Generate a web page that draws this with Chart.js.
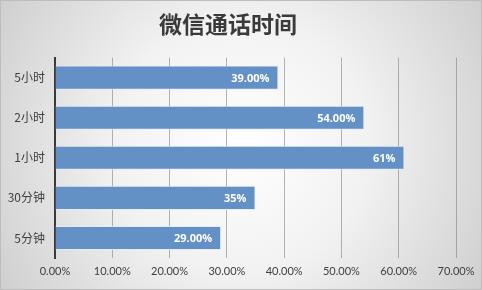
<!DOCTYPE html>
<html>
<head>
<meta charset="utf-8">
<script src="https://cdn.jsdelivr.net/npm/chart.js@4/dist/chart.umd.min.js"></script>
<style>
html,body{margin:0;padding:0;background:#fff;}
#wrap{width:482px;height:290px;position:relative;}
canvas{display:block;}
</style>
</head>
<body>
<div id="wrap"><canvas id="c" width="482" height="290"></canvas></div>
<script>
const titleText = "微信通话时间";
const categories = ["5小时", "2小时", "1小时", "30分钟", "5分钟"];
const values = [39, 54, 61, 35, 29];
const valueLabels = ["39.00%", "54.00%", "61%", "35%", "29.00%"];
const xTicks = [0, 10, 20, 30, 40, 50, 60, 70];

const bgPlugin = {
  id: 'bg',
  beforeDraw(chart) {
    const ctx = chart.ctx, w = chart.width, h = chart.height;
    ctx.save();
    const g = ctx.createRadialGradient(w/2, h/2, 0, w/2, h/2, Math.sqrt(w*w+h*h)/2);
    g.addColorStop(0, '#ffffff');
    g.addColorStop(0.45, '#f2f2f2');
    g.addColorStop(1, '#cfcfcf');
    ctx.fillStyle = g;
    ctx.fillRect(0, 0, w, h);
    ctx.strokeStyle = '#bdbdbd';
    ctx.lineWidth = 1;
    ctx.strokeRect(0.5, 0.5, w-1, h-1);
    ctx.restore();
  }
};

const labelPlugin = {
  id: 'vlabels',
  afterDatasetsDraw(chart) {
    const ctx = chart.ctx;
    const meta = chart.getDatasetMeta(0);
    ctx.save();
    ctx.font = 'bold 11px "Open Sans", "Noto Sans CJK SC", sans-serif';
    ctx.fillStyle = '#ffffff';
    ctx.textAlign = 'right';
    ctx.textBaseline = 'middle';
    meta.data.forEach((bar, i) => {
      ctx.fillText(valueLabels[i], bar.x - 9, bar.y + 1);
    });
    ctx.restore();
  }
};

new Chart(document.getElementById('c'), {
  type: 'bar',
  data: {
    labels: categories,
    datasets: [{
      data: values,
      backgroundColor: 'rgb(99,144,197)',
      borderColor: 'rgba(225,235,248,0.9)',
      borderWidth: 1,
      borderSkipped: 'start',
      categoryPercentage: 1.0,
      barPercentage: 0.6
    }]
  },
  options: {
    indexAxis: 'y',
    responsive: false,
    animation: false,
    devicePixelRatio: 1,
    layout: { padding: { left: 0, right: 26, top: 0, bottom: 0 } },
    plugins: {
      legend: { display: false },
      tooltip: { enabled: false },
      title: {
        display: true,
        text: titleText,
        color: '#3a3a3a',
        font: { family: '"Noto Sans CJK SC", sans-serif', size: 23, weight: 'bold', lineHeight: 1.2 },
        padding: { top: 10, bottom: 20 }
      }
    },
    scales: {
      x: {
        min: 0, max: 70,
        afterBuildTicks(scale) { scale.ticks = xTicks.map(v => ({ value: v })); },
        afterFit(scale) { scale.height = 32; },
        grid: { color: 'rgba(120,120,120,0.55)', lineWidth: 1, drawTicks: false, tickLength: 0 },
        border: { display: false },
        ticks: {
          padding: 7,
          color: '#404040',
          font: { family: 'Lato, "Open Sans", sans-serif', size: 11 },
          callback: (v) => v.toFixed(2) + '%'
        }
      },
      y: {
        afterFit(scale) { scale.width = 55; },
        grid: { display: false, drawTicks: false },
        border: { display: true, color: '#3a3a3a', width: 2 },
        ticks: {
          padding: 10,
          color: '#404040',
          font: { family: '"Noto Sans CJK SC", sans-serif', size: 12 }
        }
      }
    }
  },
  plugins: [bgPlugin, labelPlugin]
});
</script>
</body>
</html>
